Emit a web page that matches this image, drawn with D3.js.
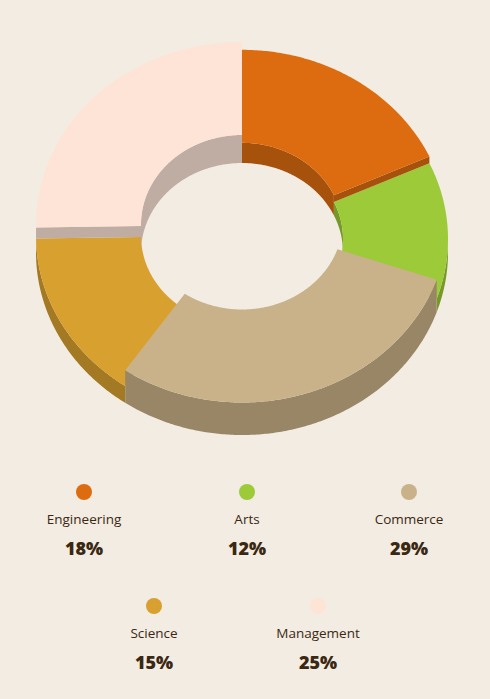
<!DOCTYPE html>
<html>
<head>
<meta charset="utf-8">
<script src="https://cdn.jsdelivr.net/npm/d3@7"></script>
<style>
  html, body { margin: 0; padding: 0; background: #f3ece2; }
  svg { display: block; }
</style>
</head>
<body>
<svg id="chart"></svg>
<script>
// data
const categories = ["Engineering", "Arts", "Commerce", "Science", "Management"];
const shares = [18, 12, 29, 15, 25];
const colors = ["#dd6c10", "#9dca38", "#c9b289", "#d8a02f", "#fde4d6"];

const width = 490;
const height = 699;
const background = "#f3ece2";
const textColor = "#3a2812";

// donut geometry (screen units)
const cx = 242;
const cyBase = 252.5;
const outerR = 206;
const innerR = 101;
const tilt = 0.886; // vertical squash of the ellipse
const maxDepth = 32.5;

const svg = d3.select("#chart").attr("width", width).attr("height", height);

svg
  .append("rect")
  .attr("width", width)
  .attr("height", height)
  .attr("fill", background)
  .attr("id", "background");

const data = categories.map((name, i) => ({
  name,
  value: shares[i],
  color: colors[i],
}));

const pie = d3
  .pie()
  .sort(null)
  .value((d) => d.value)
  .startAngle(0)
  .endAngle(2 * Math.PI);

// slice height follows its value
const depth = d3
  .scaleLinear()
  .domain([0, d3.max(shares)])
  .range([0, maxDepth]);

const shade = (c) => {
  const rgb = d3.rgb(c);
  return d3.rgb(rgb.r * 0.755, rgb.g * 0.755, rgb.b * 0.755).formatHex();
};

const pt = (a, r, h) => [cx + r * Math.sin(a), cyBase - h - r * tilt * Math.cos(a)];

const arcPoints = (a0, a1, r, h) => {
  const n = Math.max(2, Math.ceil(Math.abs(a1 - a0) / 0.01));
  return d3.range(n + 1).map((i) => pt(a0 + ((a1 - a0) * i) / n, r, h));
};

const line = d3.line();
const poly = (points) => line(points) + "Z";

// clip [a0, a1] to [lo, hi]
const clipRange = (a0, a1, lo, hi) => {
  const s = Math.max(a0, lo);
  const e = Math.min(a1, hi);
  return e > s ? [s, e] : null;
};

const arcs = pie(data).map((d) => ({ ...d, h: depth(d.data.value) }));
const n = arcs.length;
arcs.forEach((d, i) => {
  d.prevH = arcs[(i - 1 + n) % n].h;
  d.nextH = arcs[(i + 1) % n].h;
});

const viz = svg.append("g").attr("id", "viz");

// lower slices first so taller ones cover them
arcs
  .slice()
  .sort((a, b) => a.h - b.h)
  .forEach((d) => {
    const g = viz.append("g").attr("class", "slice");
    const side = shade(d.data.color);
    const { startAngle: a0, endAngle: a1, h } = d;

    // inner wall, back half
    [
      [0, Math.PI / 2],
      [1.5 * Math.PI, 2 * Math.PI],
    ].forEach(([lo, hi]) => {
      const r = clipRange(a0, a1, lo, hi);
      if (!r) return;
      g.append("path")
        .attr("fill", side)
        .attr("d", poly([...arcPoints(r[0], r[1], innerR, h), ...arcPoints(r[1], r[0], innerR, 0)]));
    });

    // outer wall, front half
    const fr = clipRange(a0, a1, Math.PI / 2, 1.5 * Math.PI);
    if (fr) {
      g.append("path")
        .attr("fill", side)
        .attr("d", poly([...arcPoints(fr[0], fr[1], outerR, h), ...arcPoints(fr[1], fr[0], outerR, 0)]));
    }

    // radial cut faces: only the part standing above the neighbour shows
    const cut = (a, lowH) =>
      poly([pt(a, outerR, h), pt(a, innerR, h), pt(a, innerR, lowH), pt(a, outerR, lowH)]);
    if (Math.sin(a0) < -1e-6 && h > d.prevH)
      g.append("path").attr("fill", side).attr("d", cut(a0, d.prevH));
    if (Math.sin(a1) > 1e-6 && h > d.nextH)
      g.append("path").attr("fill", side).attr("d", cut(a1, d.nextH));

    // top face
    g.append("path")
      .attr("fill", d.data.color)
      .attr("d", poly([...arcPoints(a0, a1, outerR, h), ...arcPoints(a1, a0, innerR, h)]));
  });

// legend
const legendRows = [
  { y: 492, xs: [84, 247, 409] },
  { y: 606, xs: [154, 318] },
];

const legendLayer = svg.append("g").attr("id", "legend");

data.forEach((d, i) => {
  const row = legendRows[Math.floor(i / 3)];
  const x = row.xs[i % 3];
  const item = legendLayer.append("g").attr("transform", `translate(${x},${row.y})`);

  item.append("circle").attr("r", 8).attr("fill", d.color);

  item
    .append("text")
    .attr("y", 32)
    .attr("text-anchor", "middle")
    .attr("font-family", "'Open Sans', sans-serif")
    .attr("font-weight", 500)
    .attr("font-size", 13.5)
    .attr("fill", textColor)
    .text(d.name);

  item
    .append("text")
    .attr("y", 63)
    .attr("text-anchor", "middle")
    .attr("font-family", "'Open Sans', sans-serif")
    .attr("font-weight", 800)
    .attr("font-size", 18)
    .attr("fill", textColor)
    .text(d.value + "%");
});
</script>
</body>
</html>
